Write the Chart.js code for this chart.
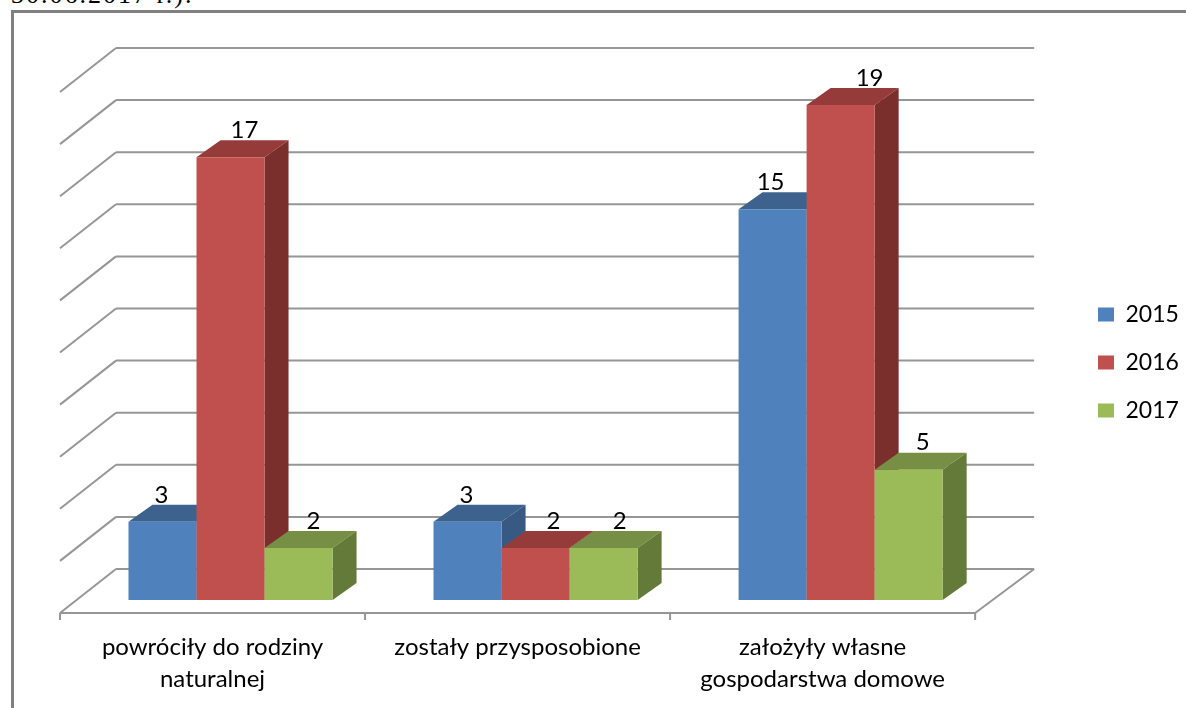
<!DOCTYPE html>
<html>
<head>
<meta charset="utf-8">
<title>Wykres</title>
<script src="https://cdn.jsdelivr.net/npm/chart.js@4"></script>
<style>
  html, body { margin: 0; padding: 0; background: #fff; overflow: hidden; }
  #wrap { position: relative; width: 1186px; height: 708px; overflow: hidden; }
  #note { position: absolute; left: 11px; top: -20px; font: 26px "Liberation Serif", serif; letter-spacing: 2px; color: #000; white-space: nowrap; }
  #frame { position: absolute; left: 11px; top: 10px; width: 1190px; height: 720px; border: 3px solid #808080; }
  canvas { position: absolute; left: 0; top: 0; }
</style>
</head>
<body>
<div id="wrap">
  <div id="note">30.06.2017 r.).</div>
  <div id="frame"></div>
  <canvas id="myBarChart" width="1186" height="708"></canvas>
</div>
<script>
const categories = [["powróciły do rodziny", "naturalnej"], "zostały przysposobione", ["założyły własne", "gospodarstwa domowe"]];
const years = ["2015", "2016", "2017"];
const values2015 = [3, 3, 15];
const values2016 = [17, 2, 19];
const values2017 = [2, 2, 5];

const frontColors = ["#4F81BD", "#C0504D", "#9BBB59"];
const topColors = ["#3E628E", "#953C3A", "#768F44"];
const sideColors = ["#385A82", "#7B2F2D", "#647A38"];

// how far the value labels sit from the middle of each bar top
const labelShift = [[-1, -1, -2], [14, 18, 29], [15, 16, 14]];

const FONT = "Lato";
const BAR_DX = 24, BAR_DY = 17;   // depth of the bars
const WALL_DX = 38, WALL_DY = 31; // bar front plane -> back wall
const FLOOR_DX = 18, FLOOR_DY = 13; // bar front plane -> front of the floor

function poly(ctx, color, pts) {
    ctx.fillStyle = color;
    ctx.beginPath();
    pts.forEach((p, i) => i ? ctx.lineTo(p[0], p[1]) : ctx.moveTo(p[0], p[1]));
    ctx.closePath();
    ctx.fill();
}

function line(ctx, x1, y1, x2, y2) {
    ctx.beginPath();
    ctx.moveTo(x1, y1);
    ctx.lineTo(x2, y2);
    ctx.stroke();
}

const fake3d = {
    id: "fake3d",
    beforeDatasetsDraw(chart) {
        const ctx = chart.ctx;
        const x = chart.scales.x, y = chart.scales.y;
        const left = x.left - FLOOR_DX, right = x.right - FLOOR_DX;

        ctx.save();
        ctx.strokeStyle = "#969696";
        ctx.lineWidth = 2;
        y.ticks.forEach(t => {
            const py = y.getPixelForValue(t.value);
            line(ctx, left + WALL_DX + FLOOR_DX, py - WALL_DY, right + WALL_DX + FLOOR_DX + 3, py - WALL_DY);
            line(ctx, left, py + FLOOR_DY, left + WALL_DX + FLOOR_DX, py - WALL_DY);
        });
        // floor: right edge, front edge and tick marks
        const base = y.getPixelForValue(0);
        line(ctx, right, base + FLOOR_DY, right + WALL_DX + FLOOR_DX + 3, base - WALL_DY);
        line(ctx, left, base + FLOOR_DY, right, base + FLOOR_DY);
        for (let i = 0; i <= categories.length; i++) {
            const tx = left + i * (right - left) / categories.length;
            line(ctx, tx, base + FLOOR_DY, tx, base + FLOOR_DY + 7);
        }
        ctx.restore();

        // left to right, so the next bar covers the side of the one before
        chart.data.datasets.forEach((ds, i) => {
            const meta = chart.getDatasetMeta(i);
            meta.data.forEach(bar => {
                const l = bar.x - bar.width / 2, r = bar.x + bar.width / 2;
                poly(ctx, topColors[i], [[l, bar.y], [l + BAR_DX, bar.y - BAR_DY], [r + BAR_DX, bar.y - BAR_DY], [r, bar.y]]);
                poly(ctx, sideColors[i], [[r, bar.y], [r + BAR_DX, bar.y - BAR_DY], [r + BAR_DX, bar.base - BAR_DY], [r, bar.base]]);
            });
            meta.controller.draw();
        });
    },
    beforeDatasetDraw() {
        return false; // already drawn above
    },
    afterDatasetsDraw(chart) {
        const ctx = chart.ctx;
        ctx.save();
        ctx.font = "24px " + FONT;
        ctx.fillStyle = "#000";
        ctx.textAlign = "center";
        ctx.textBaseline = "middle";
        chart.data.datasets.forEach((ds, i) => {
            chart.getDatasetMeta(i).data.forEach((bar, j) => {
                ctx.fillText(ds.data[j], bar.x + labelShift[i][j], bar.y - 27);
            });
        });
        ctx.restore();
    },
    afterLayout(chart) {
        const lg = chart.legend;
        const w = lg.right - lg.left;
        lg.left = 1073;
        lg.right = 1073 + w;
        lg.top = 278;
    }
};

new Chart(document.getElementById("myBarChart"), {
    type: "bar",
    plugins: [fake3d],
    data: {
        labels: categories,
        datasets: [
            { label: years[0], data: values2015, backgroundColor: frontColors[0] },
            { label: years[1], data: values2016, backgroundColor: frontColors[1] },
            { label: years[2], data: values2017, backgroundColor: frontColors[2] }
        ]
    },
    options: {
        responsive: false,
        animation: false,
        layout: { padding: { left: 78, top: 79, right: 77, bottom: 0 } },
        datasets: { bar: { barPercentage: 1, categoryPercentage: 0.669, borderWidth: 0 } },
        plugins: {
            tooltip: { enabled: false },
            legend: {
                position: "right",
                align: "start",
                labels: { boxWidth: 16, boxHeight: 14, padding: 25, color: "#000", font: { family: FONT, size: 23 } }
            }
        },
        scales: {
            x: {
                grid: { display: false },
                border: { display: false },
                afterFit: s => { s.height = 108; },
                ticks: {
                    color: "#000",
                    padding: 24,
                    labelOffset: -18,
                    maxRotation: 0,
                    autoSkip: false,
                    font: { family: FONT, size: 24, lineHeight: 1.3 }
                }
            },
            y: { display: false, min: 0, max: 20, ticks: { stepSize: 2 }, grid: { display: false } }
        }
    }
});
</script>
</body>
</html>
